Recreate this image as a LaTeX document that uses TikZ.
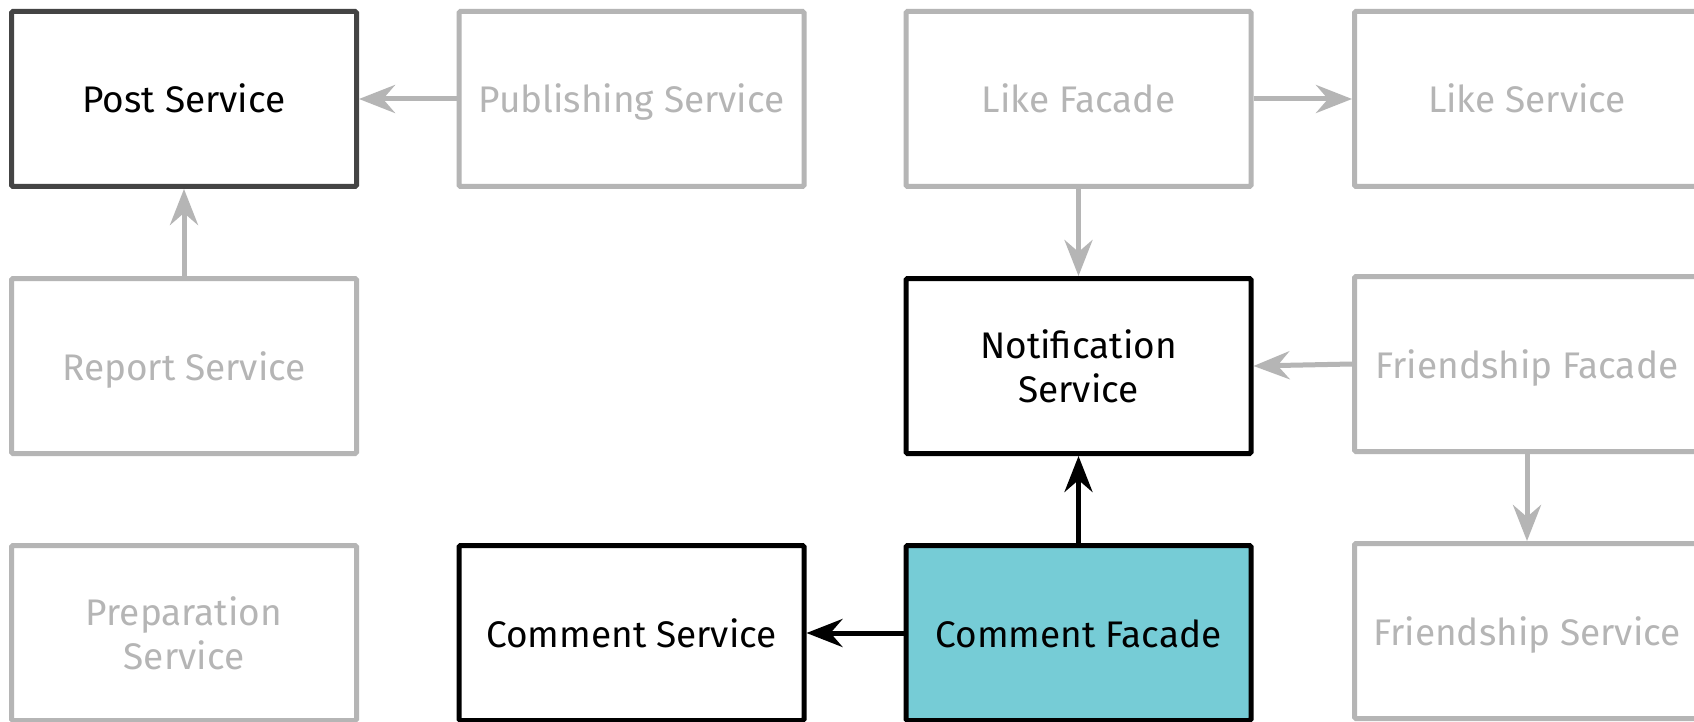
\documentclass[tikz,border=0pt]{standalone}
\usepackage{fontspec}
\setmainfont{Fira Sans}
\usetikzlibrary{arrows.meta}
\definecolor{faded}{HTML}{B5B5B5}
\definecolor{darkedge}{HTML}{444444}
\definecolor{hilite}{HTML}{76CCD6}
\tikzset{
  svc/.style={rectangle, minimum width=345pt, minimum height=175pt, line width=5pt,
    rounded corners=1.5pt, align=center, font=\fontsize{37}{44}\selectfont, inner sep=0pt},
  oneline/.style={text height=34pt, text depth=6pt},
  fadedbox/.style={svc, draw=faded, text=faded, fill=white},
  activebox/.style={svc, draw=black, text=black, fill=white},
  postbox/.style={svc, draw=darkedge, text=black, fill=white},
  focusbox/.style={svc, draw=black, text=black, fill=hilite},
  fadedarrow/.style={draw=faded, line width=5pt, -{Stealth[length=36pt, width=28pt, inset=12pt]}},
  activearrow/.style={draw=black, line width=5pt, -{Stealth[length=36pt, width=28pt, inset=12pt]}}
}
\begin{document}
\begin{tikzpicture}[x=1pt,y=-1pt]
\useasboundingbox (0,0) rectangle (1694,722);
\clip (0,0) rectangle (1694,722);
\fill[white] (0,0) rectangle (1694,722);
% row 1
\node[postbox,oneline]  (post)  at (184,99)    {Post Service};
\node[fadedbox,oneline] (pub)   at (631.5,99)  {Publishing Service};
\node[fadedbox,oneline] (likef) at (1078.5,99) {Like Facade};
\node[fadedbox,oneline] (likes) at (1527,99)   {Like Service};
% row 2
\node[fadedbox,oneline]  (report) at (184,366)    {Report Service};
\node[activebox] (notif)  at (1078.5,366) {Notification\\Service};
\node[fadedbox,oneline]  (frf)    at (1527,364)   {Friendship Facade};
% row 3
\node[fadedbox]  (prep) at (184,633)    {Preparation\\Service};
\node[activebox,oneline] (coms) at (631.5,633)  {Comment Service};
\node[focusbox,oneline]  (comf) at (1078.5,633) {Comment Facade};
\node[fadedbox,oneline]  (frs)  at (1527,631)   {Friendship Service};
% connectors
\draw[fadedarrow] (pub) -- (post);
\draw[fadedarrow] (report) -- (post);
\draw[fadedarrow] (likef) -- (likes);
\draw[fadedarrow] (likef) -- (notif);
\draw[fadedarrow] (frf.west) -- (notif.east);
\draw[fadedarrow] (frf) -- (frs);
\draw[activearrow] (comf) -- (notif);
\draw[activearrow] (comf) -- (coms);
\end{tikzpicture}
\end{document}
